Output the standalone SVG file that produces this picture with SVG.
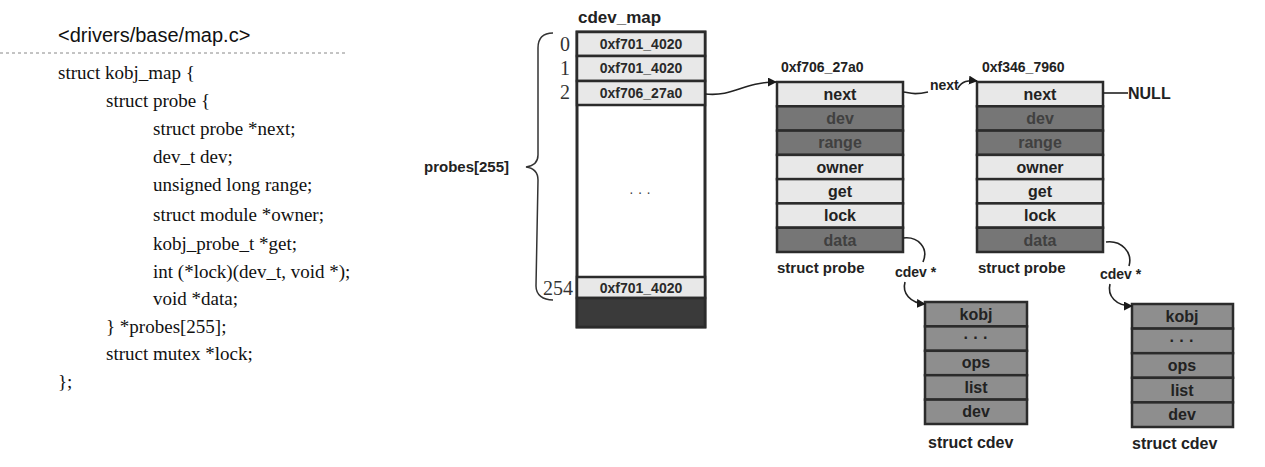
<svg xmlns="http://www.w3.org/2000/svg" width="1265" height="467" viewBox="0 0 1265 467">
<style>
.code{font-family:"Liberation Serif",serif;font-size:19px;fill:#111}
.title{font-family:"Liberation Sans",Arial,sans-serif;font-size:20px;fill:#111}
.lbl{font-family:"Liberation Sans",Arial,sans-serif;font-weight:bold;fill:#222}
.idx{font-family:"Liberation Serif",serif;font-size:20px;fill:#333}
.light{fill:#e8e8e8;stroke:#2b2b2b;stroke-width:2.5}
.dark{fill:#767676;stroke:#2b2b2b;stroke-width:2.5}
.cd{fill:#8e8e8e;stroke:#2b2b2b;stroke-width:2.5}
.rt{font-family:"Liberation Sans",Arial,sans-serif;font-weight:bold;font-size:16px;text-anchor:middle;fill:#222}
.rtd{font-family:"Liberation Sans",Arial,sans-serif;font-weight:bold;font-size:16px;text-anchor:middle;fill:#404040}
.mt{font-family:"Liberation Sans",Arial,sans-serif;font-weight:bold;font-size:14px;text-anchor:middle;fill:#2a2a2a}
.wire{fill:none;stroke:#222;stroke-width:1.6}
</style>
<defs>
<marker id="arr" viewBox="0 0 10 10" refX="9" refY="5" markerWidth="9" markerHeight="9" markerUnits="userSpaceOnUse" orient="auto">
<path d="M0,0 L10,5 L0,10 z" fill="#1a1a1a"/>
</marker>
</defs>
<rect width="1265" height="467" fill="#ffffff"/>

<g id="code">
<text class="title" x="58" y="42">&lt;drivers/base/map.c&gt;</text>
<line x1="0" y1="53" x2="345" y2="53" stroke="#888" stroke-width="1" stroke-dasharray="3 3"/>
<text class="code" x="58" y="79">struct kobj_map {</text>
<text class="code" x="106" y="107">struct probe {</text>
<text class="code" x="153" y="135">struct probe *next;</text>
<text class="code" x="153" y="163">dev_t dev;</text>
<text class="code" x="153" y="191">unsigned long range;</text>
<text class="code" x="153" y="221">struct module *owner;</text>
<text class="code" x="153" y="250">kobj_probe_t *get;</text>
<text class="code" x="153" y="278">int (*lock)(dev_t, void *);</text>
<text class="code" x="153" y="305">void *data;</text>
<text class="code" x="106" y="333">} *probes[255];</text>
<text class="code" x="106" y="360">struct mutex *lock;</text>
<text class="code" x="58" y="388">};</text>
</g>

<g id="cdev_map">
<text class="lbl" x="578" y="23" font-size="17">cdev_map</text>
<rect x="577" y="32" width="128" height="295" fill="#fff" stroke="#2b2b2b" stroke-width="3"/>
<rect class="light" x="577" y="32" width="128" height="24"/>
<rect class="light" x="577" y="56" width="128" height="25"/>
<rect class="light" x="577" y="81" width="128" height="24"/>
<rect class="light" x="577" y="277" width="128" height="21"/>
<rect x="577" y="298" width="128" height="29" fill="#3a3a3a" stroke="#2b2b2b" stroke-width="2.5"/>
<text class="mt" x="641" y="49">0xf701_4020</text>
<text class="mt" x="641" y="73">0xf701_4020</text>
<text class="mt" x="641" y="98">0xf706_27a0</text>
<text class="mt" x="641" y="293">0xf701_4020</text>
<text x="640" y="197" font-family="Liberation Sans,sans-serif" font-size="14" fill="#444" text-anchor="middle">· · ·</text>
<text class="idx" x="565" y="51" text-anchor="middle">0</text>
<text class="idx" x="565" y="75" text-anchor="middle">1</text>
<text class="idx" x="565" y="99" text-anchor="middle">2</text>
<text class="idx" x="573" y="295" text-anchor="end">254</text>
<path d="M553,33 C543,33 538,38 538,48 L538,155 C538,162 533,166 526,167 C533,168 538,172 538,180 L536,286 C536,295 543,300 553,300" fill="none" stroke="#333" stroke-width="1.5"/>
<text class="lbl" x="424" y="172" font-size="15">probes[255]</text>
</g>

<g id="probe1">
<text class="lbl" x="781" y="72" font-size="14">0xf706_27a0</text>
<rect class="light" x="777" y="82" width="126" height="24.3"/>
<rect class="dark" x="777" y="106.3" width="126" height="24.3"/>
<rect class="dark" x="777" y="130.6" width="126" height="24.3"/>
<rect class="light" x="777" y="154.9" width="126" height="24.3"/>
<rect class="light" x="777" y="179.1" width="126" height="24.3"/>
<rect class="light" x="777" y="203.4" width="126" height="24.3"/>
<rect class="dark" x="777" y="227.7" width="126" height="24.3"/>
<text class="rt" x="840" y="100">next</text>
<text class="rtd" x="840" y="124">dev</text>
<text class="rtd" x="840" y="148">range</text>
<text class="rt" x="840" y="173">owner</text>
<text class="rt" x="840" y="197">get</text>
<text class="rt" x="840" y="221">lock</text>
<text class="rtd" x="840" y="246">data</text>
<text class="lbl" x="777" y="273" font-size="15">struct probe</text>
</g>

<g id="probe2">
<text class="lbl" x="982" y="72" font-size="14">0xf346_7960</text>
<rect class="light" x="977" y="82" width="126" height="24.3"/>
<rect class="dark" x="977" y="106.3" width="126" height="24.3"/>
<rect class="dark" x="977" y="130.6" width="126" height="24.3"/>
<rect class="light" x="977" y="154.9" width="126" height="24.3"/>
<rect class="light" x="977" y="179.1" width="126" height="24.3"/>
<rect class="light" x="977" y="203.4" width="126" height="24.3"/>
<rect class="dark" x="977" y="227.7" width="126" height="24.3"/>
<text class="rt" x="1040" y="100">next</text>
<text class="rtd" x="1040" y="124">dev</text>
<text class="rtd" x="1040" y="148">range</text>
<text class="rt" x="1040" y="173">owner</text>
<text class="rt" x="1040" y="197">get</text>
<text class="rt" x="1040" y="221">lock</text>
<text class="rtd" x="1040" y="246">data</text>
<text class="lbl" x="978" y="273" font-size="15">struct probe</text>
</g>

<g id="null">
<text class="lbl" x="1128" y="99" font-size="16">NULL</text>
</g>

<g id="cdev1">
<rect class="cd" x="925" y="302" width="102" height="24.4"/>
<rect class="cd" x="925" y="326.4" width="102" height="24.4"/>
<rect class="cd" x="925" y="350.8" width="102" height="24.4"/>
<rect class="cd" x="925" y="375.2" width="102" height="24.4"/>
<rect class="cd" x="925" y="399.6" width="102" height="24.4"/>
<text class="rt" x="976" y="320">kobj</text>
<text class="rt" x="976" y="343">· · ·</text>
<text class="rt" x="976" y="368">ops</text>
<text class="rt" x="976" y="393">list</text>
<text class="rt" x="976" y="417">dev</text>
<text class="lbl" x="928" y="448" font-size="16">struct cdev</text>
</g>

<g id="cdev2">
<rect class="cd" x="1132" y="304" width="101" height="24.6"/>
<rect class="cd" x="1132" y="328.6" width="101" height="24.6"/>
<rect class="cd" x="1132" y="353.2" width="101" height="24.6"/>
<rect class="cd" x="1132" y="377.8" width="101" height="24.6"/>
<rect class="cd" x="1132" y="402.4" width="101" height="24.6"/>
<text class="rt" x="1182" y="322">kobj</text>
<text class="rt" x="1182" y="346">· · ·</text>
<text class="rt" x="1182" y="371">ops</text>
<text class="rt" x="1182" y="396">list</text>
<text class="rt" x="1182" y="420">dev</text>
<text class="lbl" x="1132" y="449" font-size="16">struct cdev</text>
</g>

<g id="connectors">
<path class="wire" d="M705,94 C735,97 742,82 776,82" marker-end="url(#arr)"/>
<path class="wire" d="M903,92 C910,92 910,96 928,92"/>
<text class="lbl" x="930" y="90" font-size="14">next</text>
<path class="wire" d="M958,88 C962,81 968,80 977,81" marker-end="url(#arr)"/>
<line class="wire" x1="1103" y1="93" x2="1128" y2="93"/>
<path class="wire" d="M903,238 C918,236 929,248 923,262"/>
<text class="lbl" x="895" y="277" font-size="14">cdev *</text>
<path class="wire" d="M905,282 C902,293 910,303 925,304" marker-end="url(#arr)"/>
<path class="wire" d="M1106,242 C1121,240 1133,252 1129,266"/>
<text class="lbl" x="1100" y="279" font-size="14">cdev *</text>
<path class="wire" d="M1110,284 C1107,296 1116,306 1132,306" marker-end="url(#arr)"/>
</g>
</svg>
